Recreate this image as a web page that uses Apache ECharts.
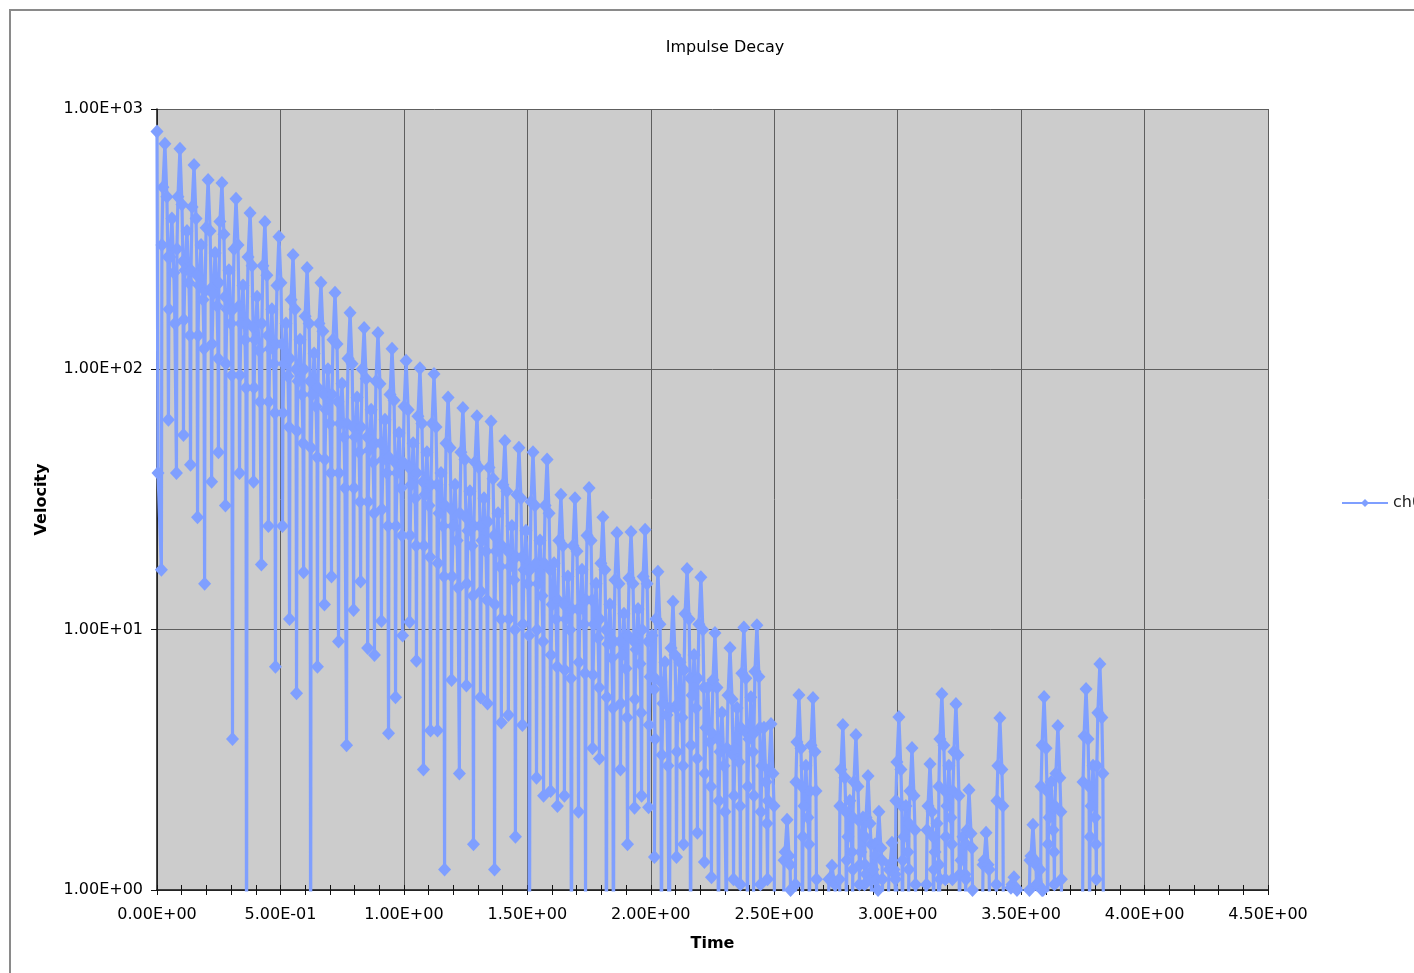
<!DOCTYPE html>
<html>
<head>
<meta charset="utf-8">
<title>Impulse Decay</title>
<script src="https://cdn.jsdelivr.net/npm/echarts@6/dist/echarts.min.js"></script>
<style>
html, body { margin: 0; padding: 0; background: #fff; }
#main { width: 1414px; height: 973px; }
</style>
</head>
<body>
<div id="main"></div>
<script>
// first thin stroke at t = 0
var leadTime = [0.0, 0.004];
var leadValue = [820, 40];

// one entry per oscillation column
var colTime = [0.032, 0.093, 0.150, 0.207, 0.263, 0.320, 0.377, 0.437, 0.494, 0.551,
    0.608, 0.664, 0.721, 0.782, 0.839, 0.895, 0.952, 1.009, 1.065, 1.122,
    1.179, 1.239, 1.296, 1.353, 1.409, 1.466, 1.523, 1.580, 1.636, 1.693,
    1.750, 1.806, 1.863, 1.920, 1.977, 2.029, 2.090, 2.147, 2.203, 2.260,
    2.321, 2.377, 2.430, 2.487, 2.552, 2.600, 2.657, 2.734, 2.778, 2.831,
    2.880, 2.924, 2.977, 3.005, 3.058, 3.131, 3.179, 3.236, 3.289, 3.358,
    3.414, 3.471, 3.548, 3.593, 3.649, 3.763, 3.819];
// trough before the column
var lowLeft = [17, 40, 43, 15, 48, 3.8, 0.3, 17.8, 7.2, 11,
    16.6, 7.2, 16, 3.6, 15.3, 8, 4, 9.5, 7.6, 4.1,
    1.2, 2.8, 1.5, 5.2, 4.4, 1.6, 0.3, 2.3, 2.1, 0.3,
    0.95, 3.2, 0.3, 1.5, 2.3, 1.34, 0.3, 1.5, 1.66, 1.12,
    0.7, 1.05, 0.6, 1.1, 0.8, 1.05, 0.6, 0.9, 1.1, 0.7,
    1.05, 0.8, 0.9, 1.1, 0.6, 1.05, 0.7, 1.1, 0.9, 0.8,
    1.05, 0.9, 1.0, 0.7, 1.05, 0.6, 1.1];
// rising samples of the tall column
var riseLow = [300, 290, 240, 200, 215, 170, 150, 150, 125, 110,
    100, 85, 80, 62, 60, 52, 46, 44, 40, 36,
    30, 28, 25, 26, 21, 19, 17, 18, 13, 12,
    13, 11, 9, 9.5, 10, 6.5, 5, 7, 6.5, 4,
    3.5, 4.2, 4, 2.2, 1.3, 2.6, 2.4, 1.1, 2.1, 1.9,
    1.6, 1.35, 1.2, 2.2, 1.8, 1.7, 2.5, 2.4, 1.5, 1.25,
    2.2, 1.02, 1.3, 2.5, 2.1, 2.6, 3.0];
var riseMid = [500, 460, 420, 350, 370, 290, 270, 250, 210, 185,
    160, 150, 130, 110, 100, 90, 80, 72, 66, 62,
    52, 48, 44, 42, 36, 33, 31, 30, 22, 21,
    23, 18, 15.5, 15.8, 16, 11, 8.5, 11.5, 10.5, 6.4,
    5.6, 6.8, 6.9, 2.9, 1.4, 3.7, 3.6, 1.1, 2.9, 2.6,
    1.9, 1.5, 1.25, 3.1, 2.4, 2.1, 3.8, 3.4, 1.7, 1.3,
    3.0, 1.05, 1.35, 3.6, 2.8, 3.9, 4.8];
var colPeak = [735, 703, 610, 534, 520, 452, 399, 368, 323, 275,
    245, 215, 197, 165, 144, 138, 120, 108, 101, 96,
    78, 71, 66, 63, 53, 50, 48, 45, 33, 32,
    35, 27, 23.5, 23.7, 24.2, 16.7, 12.8, 17.1, 15.9, 9.7,
    8.5, 10.2, 10.4, 4.34, 1.86, 5.61, 5.47, 1.24, 4.30, 3.94,
    2.74, 2.0, 1.52, 4.62, 3.51, 3.05, 5.66, 5.18, 2.42, 1.66,
    4.58, 1.12, 1.78, 5.51, 4.27, 5.92, 7.38];
// falling samples of the tall column
var fallMid = [460, 430, 380, 340, 330, 300, 250, 230, 215, 170,
    150, 140, 125, 105, 92, 88, 76, 70, 62, 60,
    50, 45, 42, 38, 34, 32, 30, 28, 21, 20,
    22, 17, 15, 15, 15, 10.5, 8, 11, 10, 6,
    5.4, 6.5, 6.6, 2.8, 1.35, 3.5, 3.4, 1.08, 2.7, 2.5,
    1.8, 1.45, 1.2, 2.9, 2.3, 2.0, 3.6, 3.3, 1.65, 1.25,
    2.9, 1.02, 1.3, 3.5, 2.7, 3.8, 4.6];
var fallLow = [270, 260, 230, 205, 190, 175, 145, 135, 125, 100,
    90, 80, 75, 60, 55, 52, 44, 42, 37, 36,
    29, 27, 25, 23, 20, 19, 18, 17, 12.5, 12,
    13, 10, 9, 9, 9, 6.3, 5, 6.5, 6, 3.8,
    3.3, 4, 4.2, 2.1, 1.25, 2.5, 2.4, 1.05, 2.0, 1.85,
    1.5, 1.3, 1.15, 2.1, 1.7, 1.6, 2.4, 2.3, 1.45, 1.2,
    2.1, 1.0, 1.25, 2.4, 2.0, 2.5, 2.8];
// trough after the column
var lowRight = [64, 56, 27, 37, 30, 40, 37, 25, 25, 5.7,
    0.3, 12.5, 9, 11.9, 8.5, 10.8, 5.5, 10.7, 2.9, 4.1,
    6.4, 6.1, 5.5, 1.2, 4.7, 4.3, 2.7, 2.4, 2.3, 2.0,
    3.5, 0.3, 2.9, 2.07, 2.08, 0.3, 1.34, 0.3, 1.28, 0.3,
    1.1, 0.6, 1.05, 0.7, 1.0, 0.6, 1.1, 0.9, 0.7, 1.05,
    0.8, 1.1, 0.9, 0.6, 1.05, 0.8, 1.1, 0.6, 1.0, 0.9,
    0.7, 0.95, 1.05, 0.6, 1.1, 0.8, 0.7];
// rising samples of the short hump between columns
var notchLow = [170, 155, 135, 125, 105, 95, 85, 75, 68, 58,
    50, 45, 40, 35, 31, 29, 25, 23, 21, 18,
    16, 15, 14, 12.5, 11, 10.5, 10, 8, 7, 7.5,
    6.7, 5.5, 5.2, 5.4, 4.3, 3.3, 3.4, 3.6, 2.8, 2.2,
    2.3, 2.5, 2.0, 0.55, 0.65, 1.6, 0.55, 0.65, 1.3, 1.25,
    1.1, 0.75, 0.75, 1.3, 0.65, 1.2, 1.6, 1.15, 0.75, 0.65,
    0.55, 0.55, 1.05, 1.5, 0.45, 1.6, 0.45];
var notchRise = [270, 240, 210, 195, 170, 150, 130, 120, 105, 90,
    80, 70, 62, 55, 49, 45, 40, 36, 33, 28,
    25, 24, 22, 20, 17.5, 17, 15, 12.5, 11, 12,
    10.5, 8.8, 8, 8.4, 6.6, 5.2, 5.2, 5.6, 4.2, 3.4,
    3.5, 3.8, 3.0, 0.5, 0.6, 2.1, 0.5, 0.6, 1.6, 1.4,
    1.2, 0.7, 0.7, 1.6, 0.6, 1.4, 2.1, 1.3, 0.7, 0.6,
    0.5, 0.5, 1.05, 1.9, 0.45, 2.1, 0.45];
var notchTop = [380, 340, 300, 280, 240, 210, 190, 170, 150, 130,
    115, 100, 88, 78, 70, 64, 57, 52, 48, 40,
    36, 34, 32, 28, 25, 24, 22, 18, 16, 17,
    15, 12.5, 11.5, 12, 9.5, 7.5, 7.5, 8, 6, 4.8,
    5, 5.5, 4.2, 0.6, 0.7, 3.0, 0.6, 0.7, 2.2, 1.9,
    1.5, 0.8, 0.8, 2.1, 0.7, 1.8, 3.0, 1.6, 0.8, 0.7,
    0.6, 0.6, 1.2, 2.6, 0.5, 3.0, 0.5];
// falling samples of the short hump
var notchFall = [235, 215, 185, 175, 150, 130, 118, 105, 94, 80,
    72, 62, 55, 48, 44, 40, 35, 32, 30, 25,
    22, 21, 20, 17.5, 15.5, 15, 13.5, 11, 10, 10.5,
    9.3, 7.8, 7.1, 7.4, 5.9, 4.7, 4.6, 5, 3.7, 3,
    3.1, 3.4, 2.6, 0.45, 0.5, 1.9, 0.45, 0.5, 1.4, 1.25,
    1.1, 0.6, 0.6, 1.4, 0.5, 1.25, 1.9, 1.15, 0.6, 0.5,
    0.45, 0.45, 1.0, 1.7, 0.4, 1.9, 0.4];
var notchEnd = [150, 135, 120, 110, 95, 85, 75, 68, 60, 52,
    46, 40, 35, 31, 28, 25, 23, 21, 19, 16,
    14.5, 13.5, 13, 11, 10, 9.5, 9, 7.2, 6.5, 6.8,
    6, 5, 4.6, 4.8, 3.8, 3, 3, 3.2, 2.5, 2,
    2.1, 2.3, 1.8, 0.5, 0.6, 1.5, 0.5, 0.6, 1.2, 1.15,
    1.0, 0.7, 0.7, 1.2, 0.6, 1.1, 1.5, 1.1, 0.7, 0.6,
    0.5, 0.5, 1.0, 1.4, 0.4, 1.5, 0.4];
// sample times inside one column period, relative to the peak (s)
var phaseOffset = [-0.0142, -0.0122, -0.0081, 0, 0.0081, 0.0122,
    0.0142, 0.0162, 0.0203, 0.0284, 0.0365, 0.0405];

var xTickLabels = ['0.00E+00', '5.00E-01', '1.00E+00', '1.50E+00', '2.00E+00',
    '2.50E+00', '3.00E+00', '3.50E+00', '4.00E+00', '4.50E+00'];
var yTickLabels = ['1.00E+00', '1.00E+01', '1.00E+02', '1.00E+03'];

var points = [];
for (var i = 0; i < leadTime.length; i++) {
    points.push([leadTime[i], leadValue[i]]);
}
for (var i = 0; i < colTime.length; i++) {
    var vals = [lowLeft[i], riseLow[i], riseMid[i], colPeak[i], fallMid[i], fallLow[i],
        lowRight[i], notchLow[i], notchRise[i], notchTop[i], notchFall[i], notchEnd[i]];
    for (var k = 0; k < vals.length; k++) {
        points.push([colTime[i] + phaseOffset[k], vals[k]]);
    }
}

var chartDom = document.getElementById('main');
var myChart = echarts.init(chartDom);
var option;
var font = 'DejaVu Sans';
var blue = '#7f9fff';

option = {
    animation: false,
    textStyle: { fontFamily: font },
    title: {
        text: 'Impulse Decay',
        left: 720,
        textAlign: 'center',
        top: 35,
        textStyle: { fontSize: 16, fontWeight: 'normal', color: '#000', fontFamily: font }
    },
    graphic: [{
        type: 'rect',
        shape: { x: 10, y: 10, width: 1500, height: 1100 },
        style: { fill: 'none', stroke: '#8a8a8a', lineWidth: 2 }
    }],
    legend: {
        data: ['ch0'],
        left: 1336,
        top: 490,
        itemWidth: 46,
        itemHeight: 10,
        textStyle: { fontSize: 16, color: '#222', fontFamily: font }
    },
    grid: {
        left: 157, top: 109, right: 146, bottom: 83,
        show: true, backgroundColor: '#cccccc', borderWidth: 0
    },
    xAxis: [{
        type: 'value',
        min: 0,
        max: 4.5,
        interval: 0.5,
        name: 'Time',
        nameLocation: 'middle',
        nameGap: 46,
        nameTextStyle: { fontSize: 16, fontWeight: 'bold', color: '#000', fontFamily: font },
        axisLine: { show: true, onZero: false, lineStyle: { color: '#111', width: 1.5 } },
        axisTick: { show: true, length: 5, lineStyle: { color: '#111' } },
        minorTick: { show: true, splitNumber: 5, length: 5, lineStyle: { color: '#111' } },
        splitLine: { show: true, lineStyle: { color: '#5e5e5e', width: 1 } },
        axisLabel: {
            margin: 17,
            fontSize: 16,
            color: '#000',
            formatter: function(v) { return xTickLabels[Math.round(v / 0.5)]; }
        }
    }, {
        // inner half of the crossing tick marks
        type: 'value',
        min: 0,
        max: 4.5,
        interval: 0.5,
        position: 'bottom',
        axisLine: { show: false },
        axisTick: { show: true, inside: true, length: 5, lineStyle: { color: '#111' } },
        minorTick: { show: true, splitNumber: 5, length: 5, lineStyle: { color: '#111' } },
        splitLine: { show: false },
        axisLabel: { show: false }
    }],
    yAxis: {
        type: 'log',
        logBase: 10,
        min: 1,
        max: 1000,
        name: 'Velocity',
        nameLocation: 'middle',
        nameGap: 107,
        nameRotate: 90,
        nameTextStyle: { fontSize: 16, fontWeight: 'bold', color: '#000', fontFamily: font },
        axisLine: { show: true, lineStyle: { color: '#111', width: 1.5 } },
        axisTick: { show: true, length: 6, lineStyle: { color: '#111' } },
        splitLine: { show: true, lineStyle: { color: '#5e5e5e', width: 1 } },
        axisLabel: {
            margin: 14,
            fontSize: 16,
            color: '#000',
            formatter: function(v) { return yTickLabels[Math.round(Math.log10(v))]; }
        }
    },
    series: [{
        name: 'ch0',
        type: 'line',
        data: points,
        clip: true,
        symbol: 'diamond',
        symbolSize: [13, 14],
        showAllSymbol: true,
        lineStyle: { color: blue, width: 3.2 },
        itemStyle: { color: blue }
    }]
};

option && myChart.setOption(option);
</script>
</body>
</html>
